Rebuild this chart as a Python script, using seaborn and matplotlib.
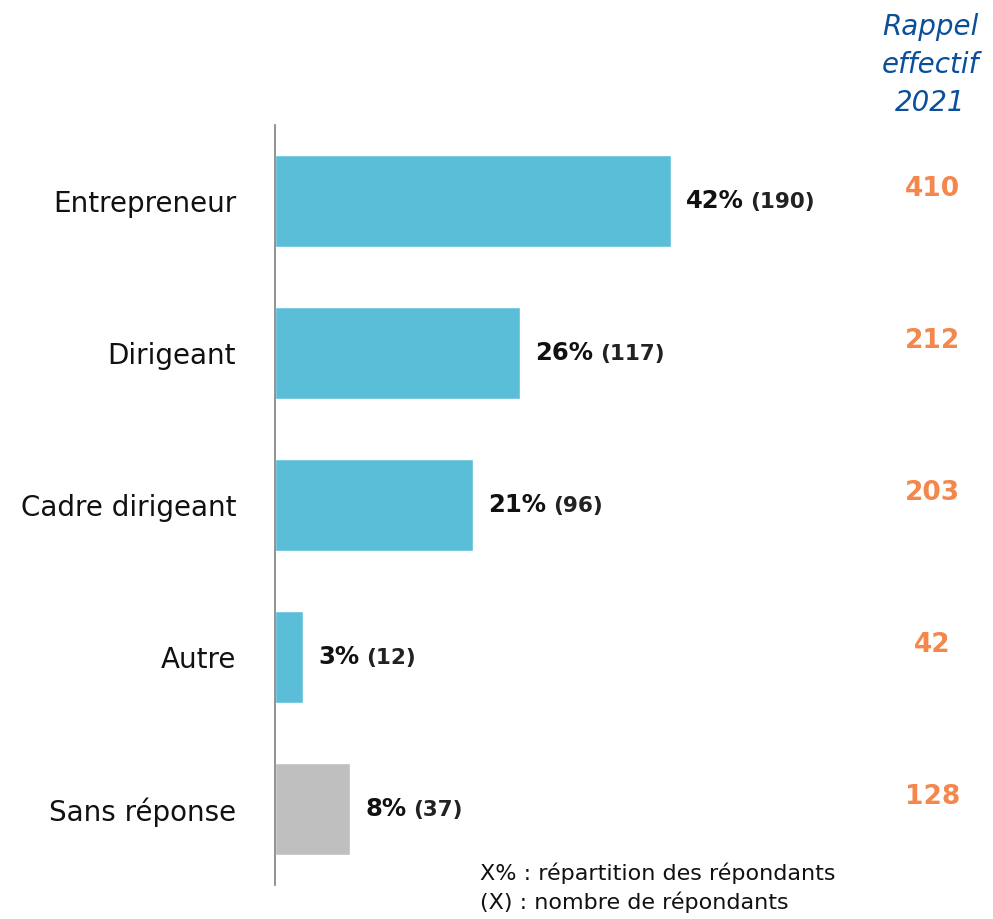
import matplotlib
matplotlib.use('Agg')
import matplotlib.pyplot as plt
import seaborn as sns
import pandas as pd

# Data
categories = ['Entrepreneur', 'Dirigeant', 'Cadre dirigeant', 'Autre', 'Sans réponse']
percent = [42, 26, 21, 3, 8]
pct_labels = ['42%', '26%', '21%', '3%', '8%']
count_labels = ['(190)', '(117)', '(96)', '(12)', '(37)']
rappel_2021 = ['410', '212', '203', '42', '128']
bar_colors = ['#5BBED8', '#5BBED8', '#5BBED8', '#5BBED8', '#BFBFBF']

df = pd.DataFrame({'categorie': categories, 'pct': percent})

sns.set_theme(style='white')
plt.rcParams['font.family'] = ['DejaVu Sans']

fig = plt.figure(figsize=(9.93, 9.19), dpi=100)
ax = fig.add_axes([0.277, 0.037, 0.569, 0.827])

sns.barplot(data=df, x='pct', y='categorie', hue='categorie', palette=bar_colors,
            legend=False, width=0.6, saturation=1, ax=ax)

ax.set_xlim(0, 60)
ax.set_ylim(4.5, -0.5)
ax.set_xlabel('')
ax.set_ylabel('')
ax.set_xticks([])
ax.tick_params(axis='y', length=0, pad=28, labelsize=20, labelcolor='#111111')
for side in ['top', 'right', 'bottom']:
    ax.spines[side].set_visible(False)
ax.spines['left'].set_color('#7f7f7f')
ax.spines['left'].set_linewidth(1.2)

# value labels: bold percentage followed by the respondent count
for i, v in enumerate(percent):
    t1 = ax.annotate(pct_labels[i], xy=(v, i), xytext=(15, 0), textcoords='offset pixels',
                     ha='left', va='center', fontsize=17.5, fontweight='bold', color='#111111')
    ax.annotate(count_labels[i], xy=(1, 0.45), xycoords=t1, xytext=(7, 0),
                textcoords='offset pixels', ha='left', va='center', fontsize=15.5,
                fontweight='bold', color='#222222')

# right-hand column: 2021 reminder
trans = ax.get_yaxis_transform()
for i, r in enumerate(rappel_2021):
    ax.text(1.163, i - 0.08, r, transform=trans, ha='center', va='center',
            fontsize=19, fontweight='bold', color='#F4874B', clip_on=False)

fig.text(0.937, 0.929, 'Rappel\neffectif\n2021', ha='center', va='center',
         fontsize=20, fontstyle='italic', color='#0B4F9A', linespacing=1.45)

fig.text(0.483, 0.034, 'X% : répartition des répondants\n(X) : nombre de répondants',
         ha='left', va='center', fontsize=16, color='#111111', linespacing=1.4)

fig.savefig('out.png', dpi=100)
